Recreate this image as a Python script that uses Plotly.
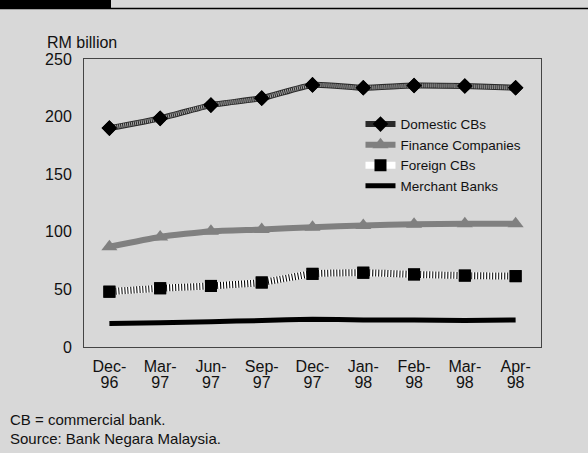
import plotly.graph_objects as go

categories = ["Dec-96", "Mar-97", "Jun-97", "Sep-97", "Dec-97", "Jan-98", "Feb-98", "Mar-98", "Apr-98"]
month_labels = ["Dec-", "Mar-", "Jun-", "Sep-", "Dec-", "Jan-", "Feb-", "Mar-", "Apr-"]
year_labels = ["96", "97", "97", "97", "97", "98", "98", "98", "98"]
domestic_cbs = [190, 198.5, 210, 216, 227.5, 225, 227, 226.5, 225]
finance_cos = [87, 95.5, 100.5, 102, 104, 105.5, 106.5, 107, 107]
foreign_cbs = [48, 51, 53, 56, 63.5, 64.5, 63, 62, 61.5]
merchant_banks = [20.5, 21, 22, 23, 24, 23.5, 23.5, 23, 23.5]
y_ticks = [0, 50, 100, 150, 200, 250]

BG = "#d8d8d8"
FONT = "Liberation Sans, Arial, sans-serif"
SPL = dict(shape="spline", smoothing=0.5)

fig = go.Figure()

# Domestic CBs: dark hatched line with black diamonds
fig.add_trace(go.Scatter(x=categories, y=domestic_cbs, name="Domestic CBs", mode="lines+markers",
                         line=dict(color="#2a2a2a", width=6, **SPL),
                         marker=dict(symbol="diamond", size=12, color="black"),
                         legendgroup="d"))
fig.add_trace(go.Scatter(x=categories, y=domestic_cbs, mode="lines", showlegend=False, hoverinfo="skip",
                         line=dict(color="#a8a8a8", width=4, dash="1px,1px", **SPL), legendgroup="d"))
fig.add_trace(go.Scatter(x=categories, y=domestic_cbs, mode="markers", showlegend=False, hoverinfo="skip",
                         marker=dict(symbol="diamond", size=12, color="black"), legendgroup="d"))

# Finance Companies: gray line with gray triangles
fig.add_trace(go.Scatter(x=categories, y=finance_cos, name="Finance Companies", mode="lines+markers",
                         line=dict(color="#808080", width=6, **SPL),
                         marker=dict(symbol="triangle-up", size=14, color="#808080")))

# Foreign CBs: white/black striped line with black squares
fig.add_trace(go.Scatter(x=categories, y=foreign_cbs, name="Foreign CBs", mode="lines+markers",
                         line=dict(color="white", width=7, **SPL),
                         marker=dict(symbol="square", size=12, color="black"),
                         legendgroup="f"))
fig.add_trace(go.Scatter(x=categories, y=foreign_cbs, mode="lines", showlegend=False, hoverinfo="skip",
                         line=dict(color="black", width=7, dash="1px,2px", **SPL), legendgroup="f"))
fig.add_trace(go.Scatter(x=categories, y=foreign_cbs, mode="markers", showlegend=False, hoverinfo="skip",
                         marker=dict(symbol="square", size=12, color="black"), legendgroup="f"))

# Merchant Banks: solid black line
fig.add_trace(go.Scatter(x=categories, y=merchant_banks, name="Merchant Banks", mode="lines",
                         line=dict(color="black", width=5, **SPL)))

# carrier for the second (year) row of category labels
fig.add_trace(go.Scatter(x=categories, y=merchant_banks, xaxis="x2", mode="none",
                         showlegend=False, hoverinfo="skip"))

fig.update_layout(
    width=588, height=453,
    margin=dict(l=84, r=47, t=59, b=106),
    paper_bgcolor=BG, plot_bgcolor=BG,
    font=dict(family=FONT, size=16, color="#111111"),
    showlegend=True,
    legend=dict(x=0.605, y=0.827, xanchor="left", yanchor="top", bgcolor="rgba(0,0,0,0)",
                font=dict(size=13.5), tracegroupgap=0, itemwidth=30),
    xaxis=dict(type="category", categoryorder="array", categoryarray=categories,
               tickvals=categories, ticktext=month_labels, range=[-0.5, 8.5],
               showgrid=False, zeroline=False, showline=True, linecolor="#444444", linewidth=1,
               mirror=True, ticks="", tickfont=dict(size=16), ticklabelstandoff=5),
    xaxis2=dict(type="category", categoryorder="array", categoryarray=categories,
                tickvals=categories, ticktext=year_labels, range=[-0.5, 8.5],
                overlaying="x", anchor="y", side="bottom",
                showgrid=False, zeroline=False, showline=False, ticks="",
                tickfont=dict(size=16), ticklabelstandoff=24),
    yaxis=dict(range=[0, 250], tickvals=y_ticks, showgrid=False, zeroline=False,
               showline=True, linecolor="#444444", linewidth=1, mirror=True, ticks="",
               ticklabelstandoff=8, tickfont=dict(size=16)),
    shapes=[
        dict(type="rect", xref="paper", yref="paper", x0=-84/457, x1=(111-84)/457,
             y0=1 + (59-8)/288, y1=1 + 59/288, fillcolor="black", line=dict(width=0), layer="above"),
        dict(type="line", xref="paper", yref="paper", x0=-84/457, x1=(588-84)/457,
             y0=1 + (59-8.5)/288, y1=1 + (59-8.5)/288, line=dict(color="black", width=1.5)),
    ],
    annotations=[
        dict(text="RM billion", xref="paper", yref="paper", x=-39/457, y=1 + (59-42)/288,
             xanchor="left", yanchor="middle", showarrow=False, font=dict(size=16)),
        dict(text="CB = commercial bank.", xref="paper", yref="paper", x=-76/457, y=-(419-347)/288,
             xanchor="left", yanchor="middle", showarrow=False, font=dict(size=15)),
        dict(text="Source: Bank Negara Malaysia.", xref="paper", yref="paper", x=-76/457, y=-(438-347)/288,
             xanchor="left", yanchor="middle", showarrow=False, font=dict(size=15)),
    ],
)

fig.write_html("out.html")
